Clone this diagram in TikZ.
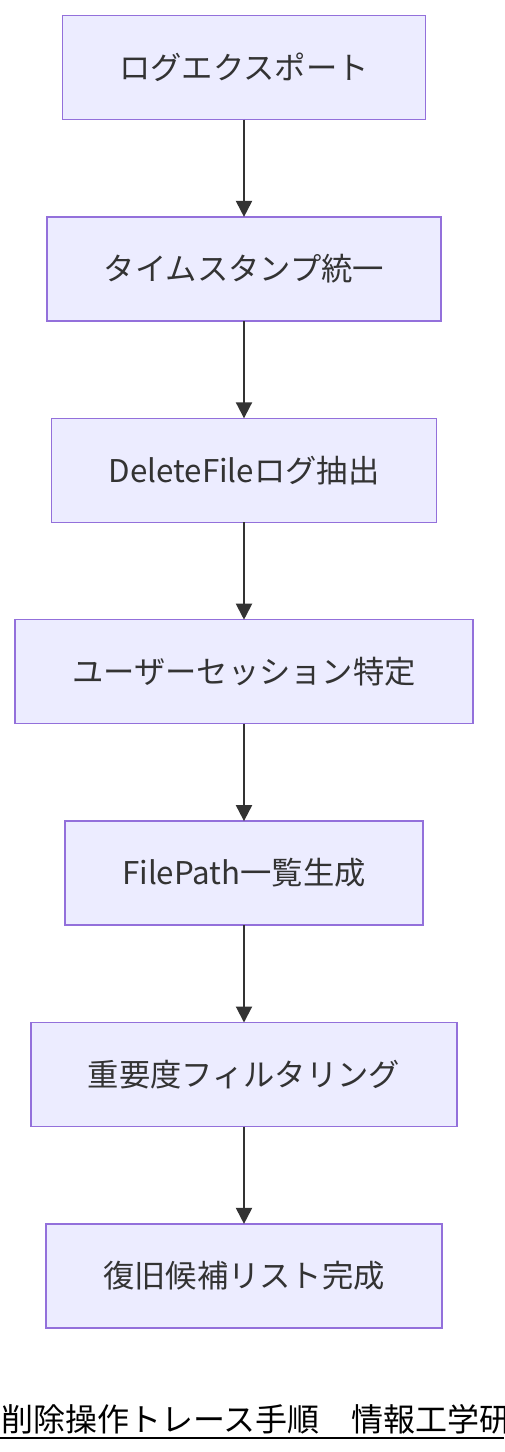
\documentclass[tikz,border=0pt]{standalone}
\usepackage{fontspec}
\setmainfont{Noto Sans CJK JP}
\usepackage{xcolor}
\usetikzlibrary{positioning, arrows.meta}

\definecolor{boxfill}{HTML}{ECECFF}
\definecolor{boxline}{HTML}{9370DB}
\definecolor{arrowc}{HTML}{333333}

\tikzset{
	etapa/.style={draw=boxline, fill=boxfill, line width=1.5pt, minimum height=104pt,
		inner xsep=57pt, outer sep=0pt, font=\fontsize{31.3}{36}\selectfont, text=arrowc},
	seta/.style={-{Triangle[width=16pt,length=16pt]}, line width=2pt, draw=arrowc}
}

\begin{document}
\begin{tikzpicture}[node distance=97.4pt]
	\useasboundingbox (0pt,0pt) rectangle (504pt,-1452pt);
	
	% Etapas
	\node[etapa] (exp) at (244pt,-67.5pt) {ログエクスポート};
	\node[etapa, below=of exp] (tempo) {タイムスタンプ統一};
	\node[etapa, below=of tempo] (delete) {DeleteFileログ抽出};
	\node[etapa, below=of delete] (sessao) {ユーザーセッション特定};
	\node[etapa, below=of sessao] (lista) {FilePath一覧生成};
	\node[etapa, below=of lista] (filtro) {重要度フィルタリング};
	\node[etapa, below=of filtro] (final) {復旧候補リスト完成};
	
	% Setas
	\foreach \a/\b in {exp/tempo, tempo/delete, delete/sessao, sessao/lista, lista/filtro, filtro/final}
		\draw[seta] (\a) -- (\b);
	
	% Título
	\node[anchor=base west, inner sep=0pt, font=\fontsize{32}{37}\selectfont] (titulo) at (1pt,-1431pt) {削除操作トレース手順　情報工学研};
	\coordinate (sub1) at (0pt,-1438pt);
	\coordinate (sub2) at (504pt,-1438pt);
	\draw[line width=2pt] (sub1) -- (sub2);
\end{tikzpicture}
\end{document}
